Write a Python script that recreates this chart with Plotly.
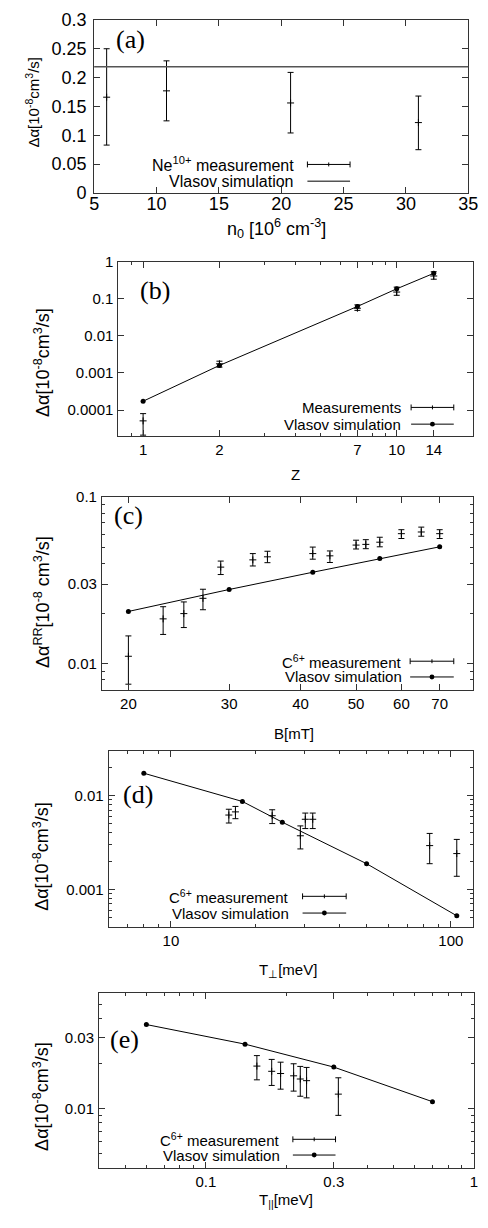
import math
import plotly.graph_objects as go

W, H = 488, 1228

# ---------------- data ----------------
# (a)
a_n0 = [6.0, 10.8, 20.75, 31.0]
a_meas = [0.166, 0.177, 0.156, 0.122]
a_hi = [0.250, 0.229, 0.209, 0.168]
a_lo = [0.083, 0.125, 0.104, 0.075]
a_vlasov = 0.219

# (b)
b_z_meas = [1, 2, 7, 10, 14]
b_meas = [5.1e-5, 1.77e-3, 0.056, 0.153, 0.415]
b_hi = [8.0e-5, 2.08e-3, 0.069, 0.208, 0.54]
b_lo = [2.1e-5, 1.44e-3, 0.049, 0.125, 0.34]
b_z_sim = [1, 2, 7, 10, 14]
b_sim = [1.73e-4, 1.6e-3, 0.0625, 0.187, 0.49]

# (c)
c_B_meas = [20, 23, 25, 27, 29, 33, 35, 42, 45, 50, 52, 55, 60, 65, 70]
c_meas = [0.0111, 0.0186, 0.0200, 0.0247, 0.0380, 0.0420, 0.0438, 0.0458,
          0.0444, 0.0515, 0.0520, 0.0536, 0.0603, 0.0617, 0.0603]
c_hi = [0.0147, 0.0220, 0.0235, 0.0280, 0.0413, 0.0458, 0.0473, 0.0501,
        0.0475, 0.0551, 0.0555, 0.0574, 0.0637, 0.0660, 0.0637]
c_lo = [0.00755, 0.0150, 0.0165, 0.0211, 0.0343, 0.0386, 0.0404, 0.0424,
        0.0405, 0.0488, 0.0490, 0.0503, 0.0564, 0.0582, 0.0564]
c_B_sim = [20, 30, 42, 55, 70]
c_sim = [0.0206, 0.0279, 0.0354, 0.0428, 0.0503]

# (d)
d_T_meas = [16.1, 17.0, 23.0, 29.0, 30.2, 32.1, 84, 105]
d_meas = [0.0062, 0.0067, 0.0061, 0.00373, 0.00559, 0.00559, 0.00293, 0.00241]
d_hi = [0.00715, 0.00766, 0.00706, 0.00475, 0.00651, 0.00651, 0.00395, 0.00341]
d_lo = [0.0051, 0.00567, 0.00503, 0.0027, 0.00445, 0.00445, 0.00188, 0.00138]
d_T_sim = [8, 18, 25, 50, 105]
d_sim = [0.0173, 0.00865, 0.0052, 0.00188, 0.000524]

# (e)
e_T_meas = [0.155, 0.176, 0.19, 0.2125, 0.225, 0.2375, 0.312]
e_meas = [0.0193, 0.0178, 0.0172, 0.0166, 0.0158, 0.0154, 0.0125]
e_hi = [0.0227, 0.0214, 0.0205, 0.0200, 0.0192, 0.0189, 0.0161]
e_lo = [0.0156, 0.0143, 0.0135, 0.0131, 0.0121, 0.0118, 0.0090]
e_T_sim = [0.06, 0.14, 0.3, 0.7]
e_sim = [0.0367, 0.0271, 0.019, 0.01112]

# ---------------- helpers ----------------
SANS = "Liberation Sans"
SERIF = "Liberation Serif"
FRAME = "#333333"


def px(x):
    return x / W


def py(y):
    return 1 - y / H


def err(vals, hi, lo):
    return dict(type="data", symmetric=False,
                array=[h - v for v, h in zip(vals, hi)],
                arrayminus=[v - l for v, l in zip(vals, lo)],
                thickness=1, width=3, color="black")


def base_axis(domain, anchor, font, standoff):
    return dict(domain=domain, anchor=anchor, showline=True, linecolor=FRAME,
                linewidth=1, mirror="allticks", ticks="inside", ticklen=6,
                tickcolor=FRAME, tickwidth=1, showgrid=False, zeroline=False,
                tickfont=font, ticklabelstandoff=standoff,
                ticklabeloverflow="allow")


def log_axis(domain, anchor, rng, major, labels, minor, font, standoff):
    d = base_axis(domain, anchor, font, standoff)
    d.update(type="log",
             range=[math.log10(rng[0]) - 0.0005, math.log10(rng[1]) + 0.0005],
             tickmode="array", tickvals=major, ticktext=labels,
             minor=dict(tickmode="array", tickvals=minor, ticks="inside",
                        ticklen=3, tickcolor=FRAME, showgrid=False))
    return d


fig = go.Figure()
font15 = dict(family=SANS, size=15, color="black")
fontA = dict(family=SANS, size=18, color="black")
legA = dict(family=SANS, size=16, color="black")
ytit = dict(family=SANS, size=18, color="black")
ytitA = dict(family=SANS, size=15, color="black")

# frames in pixels: (left, right, top, bottom)
FR = {
    "a": (92, 478, 10, 186),
    "b": (117, 483, 256, 433),
    "c": (100, 483, 495, 691),
    "d": (107, 483, 753, 932),
    "e": (97, 484, 999, 1177),
}


def dom(k):
    l, r, t, b = FR[k]
    return [px(l), px(r)], [py(b), py(t)]


meas_marker = dict(symbol="cross-thin", size=5, color="black",
                   line=dict(width=1, color="black"))
sim_marker = dict(symbol="circle", size=5, color="black")

# (a)
fig.add_trace(go.Scatter(x=a_n0, y=a_meas, mode="markers", marker=meas_marker,
                         error_y=err(a_meas, a_hi, a_lo), xaxis="x", yaxis="y",
                         showlegend=False))
# (b)
fig.add_trace(go.Scatter(x=b_z_meas, y=b_meas, mode="markers", marker=meas_marker,
                         error_y=err(b_meas, b_hi, b_lo), xaxis="x2", yaxis="y2",
                         showlegend=False))
fig.add_trace(go.Scatter(x=b_z_sim, y=b_sim, mode="lines+markers", marker=sim_marker,
                         line=dict(color="black", width=1), xaxis="x2", yaxis="y2",
                         showlegend=False))
# (c)
fig.add_trace(go.Scatter(x=c_B_meas, y=c_meas, mode="markers", marker=meas_marker,
                         error_y=err(c_meas, c_hi, c_lo), xaxis="x3", yaxis="y3",
                         showlegend=False))
fig.add_trace(go.Scatter(x=c_B_sim, y=c_sim, mode="lines+markers", marker=sim_marker,
                         line=dict(color="black", width=1), xaxis="x3", yaxis="y3",
                         showlegend=False))
# (d)
fig.add_trace(go.Scatter(x=d_T_meas, y=d_meas, mode="markers", marker=meas_marker,
                         error_y=err(d_meas, d_hi, d_lo), xaxis="x4", yaxis="y4",
                         showlegend=False))
fig.add_trace(go.Scatter(x=d_T_sim, y=d_sim, mode="lines+markers", marker=sim_marker,
                         line=dict(color="black", width=1), xaxis="x4", yaxis="y4",
                         showlegend=False))
# (e)
fig.add_trace(go.Scatter(x=e_T_meas, y=e_meas, mode="markers", marker=meas_marker,
                         error_y=err(e_meas, e_hi, e_lo), xaxis="x5", yaxis="y5",
                         showlegend=False))
fig.add_trace(go.Scatter(x=e_T_sim, y=e_sim, mode="lines+markers", marker=sim_marker,
                         line=dict(color="black", width=1), xaxis="x5", yaxis="y5",
                         showlegend=False))

# ---------------- axes ----------------
XS, YS = 0, 1  # tick label standoffs

xa, ya = dom("a")
ax = base_axis(xa, "y", fontA, -6)
ax.update(range=[5, 35.001], tickmode="array", tickvals=[5, 10, 15, 20, 25, 30, 35])
ay = base_axis(ya, "x", fontA, 3)
ay.update(range=[0, 0.3001], tickmode="array",
          tickvals=[0, 0.05, 0.1, 0.15, 0.2, 0.25, 0.3],
          ticktext=["0", "0.05", "0.1", "0.15", "0.2", "0.25", "0.3"])

xb, yb = dom("b")
bx = log_axis(xb, "y2", (0.8, 20), [1, 2, 7, 10, 14], ["1", "2", "7", "10", "14"],
              [0.9, 3, 4, 5, 6, 8, 9, 20], font15, XS)
by = log_axis(yb, "x2", (2e-5, 1), [1e-4, 1e-3, 1e-2, 0.1, 1],
              ["0.0001", "0.001", "0.01", "0.1", "1"], [], font15, YS)

xc, yc = dom("c")
cx = log_axis(xc, "y3", (18, 80), [20, 30, 40, 50, 60, 70],
              ["20", "30", "40", "50", "60", "70"], [80], font15, XS)
cy = log_axis(yc, "x3", (0.007, 0.1), [0.01, 0.03, 0.1], ["0.01", "0.03", "0.1"],
              [0.008, 0.009, 0.02, 0.04, 0.05, 0.06, 0.07, 0.08, 0.09], font15, YS)

xd, yd = dom("d")
dx = log_axis(xd, "y4", (6, 120), [10, 100], ["10", "100"],
              [6, 7, 8, 9, 20, 30, 40, 50, 60, 70, 80, 90], font15, XS)
dy = log_axis(yd, "x4", (0.0004, 0.03), [0.001, 0.01], ["0.001", "0.01"],
              [0.0005, 0.0006, 0.0007, 0.0008, 0.0009, 0.002, 0.003, 0.004,
               0.005, 0.006, 0.007, 0.008, 0.009, 0.02], font15, YS)

xe, ye = dom("e")
ex = log_axis(xe, "y5", (0.04, 1), [0.1, 0.3, 1], ["0.1", "0.3", "1"],
              [0.05, 0.06, 0.07, 0.08, 0.09, 0.2, 0.4, 0.5, 0.6, 0.7, 0.8, 0.9],
              font15, XS)
ey = log_axis(ye, "x5", (0.004, 0.06), [0.01, 0.03], ["0.01", "0.03"],
              [0.005, 0.006, 0.007, 0.008, 0.009, 0.02, 0.04, 0.05], font15, YS)

fig.update_layout(
    width=W, height=H, margin=dict(l=0, r=0, t=0, b=0),
    paper_bgcolor="white", plot_bgcolor="white", showlegend=False,
    xaxis=ax, yaxis=ay, xaxis2=bx, yaxis2=by, xaxis3=cx, yaxis3=cy,
    xaxis4=dx, yaxis4=dy, xaxis5=ex, yaxis5=ey,
)

shapes = []
annos = []

# (a) Vlasov constant line
shapes.append(dict(type="line", xref="x domain", yref="y", x0=0, x1=1,
                   y0=a_vlasov, y1=a_vlasov, line=dict(color="#555555", width=1.5)))


def text(x, y, s, font, xanchor="center", yanchor="middle", angle=0):
    annos.append(dict(x=px(x), y=py(y), xref="paper", yref="paper", text=s,
                      showarrow=False, font=font, xanchor=xanchor,
                      yanchor=yanchor, textangle=angle))


def legend_meas(x0, x1, y, color="black"):
    shapes.append(dict(type="line", xref="paper", yref="paper", x0=px(x0), x1=px(x1),
                       y0=py(y), y1=py(y), line=dict(color=color, width=1)))
    for xx in (x0, x1):
        shapes.append(dict(type="line", xref="paper", yref="paper", x0=px(xx), x1=px(xx),
                           y0=py(y - 3), y1=py(y + 3), line=dict(color=color, width=1)))
    xm = (x0 + x1) / 2
    shapes.append(dict(type="line", xref="paper", yref="paper", x0=px(xm), x1=px(xm),
                       y0=py(y - 2), y1=py(y + 2), line=dict(color=color, width=1)))


def legend_sim(x0, x1, y, dot=True, color="black", width=1):
    shapes.append(dict(type="line", xref="paper", yref="paper", x0=px(x0), x1=px(x1),
                       y0=py(y), y1=py(y), line=dict(color=color, width=width)))
    if dot:
        xm = (x0 + x1) / 2
        shapes.append(dict(type="circle", xref="paper", yref="paper",
                           x0=px(xm - 2.5), x1=px(xm + 2.5), y0=py(y + 2.5),
                           y1=py(y - 2.5), fillcolor="black",
                           line=dict(color="black", width=0)))


lab = dict(family=SERIF, size=26, color="black")
YL = "Δα[10<sup>-8</sup>cm<sup>3</sup>/s]"

# panel (a)
text(129, 30, "(a)", lab)
text(300, 157, "Ne<sup>10+</sup> measurement", legA, xanchor="right")
text(300, 174, "Vlasov simulation", legA, xanchor="right")
legend_meas(312, 356, 157)
legend_sim(312, 356, 174, dot=False, color="#555555", width=1.5)
text(280, 222, "n<sub>0</sub> [10<sup>6</sup> cm<sup>-3</sup>]", fontA)
text(28, 94, YL, ytitA, angle=-90)

# panel (b)
text(155, 285, "(b)", lab)
text(411, 404, "Measurements", font15, xanchor="right")
text(411, 421, "Vlasov simulation", font15, xanchor="right")
legend_meas(419, 463, 404)
legend_sim(419, 463, 421)
text(300, 472, "Z", font15)
text(38, 358, YL, ytit, angle=-90)

# panel (c)
text(127, 514, "(c)", lab)
text(412, 662, "C<sup>6+</sup> measurement", font15, xanchor="right")
text(412, 678, "Vlasov simulation", font15, xanchor="right")
legend_meas(418, 463, 662)
legend_sim(418, 463, 678)
text(298, 735, "B[mT]", font15)
text(38, 602, "Δα<sup>RR</sup>[10<sup>-8</sup> cm<sup>3</sup>/s]", ytit, angle=-90)

# panel (d)
text(137, 797, "(d)", lab)
text(295, 901, "C<sup>6+</sup> measurement", font15, xanchor="right")
text(295, 918, "Vlasov simulation", font15, xanchor="right")
legend_meas(307, 352, 901)
legend_sim(307, 352, 918)
text(292, 976, "T<sub>⊥</sub>[meV]", font15)
text(38, 860, YL, ytit, angle=-90)

# panel (e)
text(123, 1047, "(e)", lab)
text(286, 1148, "C<sup>6+</sup> measurement", font15, xanchor="right")
text(286, 1164, "Vlasov simulation", font15, xanchor="right")
legend_meas(297, 341, 1148)
legend_sim(297, 341, 1164)
text(290, 1210, "T<sub>||</sub>[meV]", font15)
text(37, 1104, YL, ytit, angle=-90)

fig.update_layout(shapes=shapes, annotations=annos)
fig.write_html(
    "out.html",
    config={"displayModeBar": False},
    post_script="document.body.style.margin='0';document.body.style.padding='0';"
                "document.body.style.overflow='hidden';",
)
